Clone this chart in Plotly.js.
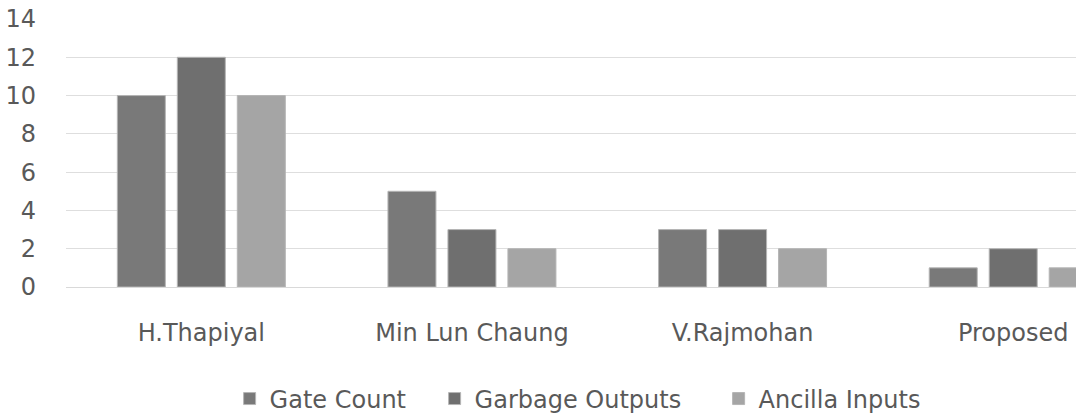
<!DOCTYPE html>
<html>
<head>
<meta charset="utf-8">
<script src="https://cdn.plot.ly/plotly-3.0.1.min.js"></script>
<style>html,body{margin:0;padding:0;background:#fff;}#chart{width:1076px;height:413px;}</style>
</head>
<body>
<div id="chart"></div>
<script>
var categories = ["H.Thapiyal", "Min Lun Chaung", "V.Rajmohan", "Proposed"];
var gateCount = [10, 5, 3, 1];
var garbageOutputs = [12, 3, 3, 2];
var ancillaInputs = [10, 2, 2, 1];
var yTicks = [0, 2, 4, 6, 8, 10, 12, 14];

var font = "DejaVu Sans";
var textColor = "#595959";
var fs = 24;

function barTrace(name, values, color, lw) {
  return {
    type: "bar",
    name: name,
    x: categories,
    y: values,
    marker: {color: color, line: {color: "#b5b5b5", width: 1}},
    legendwidth: lw,
    hoverinfo: "x+y+name"
  };
}

var data = [
  barTrace("Gate Count", gateCount, "#797979", 160),
  barTrace("Garbage Outputs", garbageOutputs, "#6f6f6f", 239),
  barTrace("Ancilla Inputs", ancillaInputs, "#a5a5a5", 180)
];

var layout = {
  width: 1076,
  height: 413,
  margin: {l: 66, r: 0, t: 19, b: 126},
  paper_bgcolor: "#ffffff",
  plot_bgcolor: "#ffffff",
  barmode: "group",
  bargap: 0.335,
  bargroupgap: 0.2,
  font: {family: font, size: fs, color: textColor},
  xaxis: {
    type: "category",
    range: [-0.5, 3.232],
    showgrid: false,
    showline: false,
    zeroline: false,
    ticks: "",
    ticklabelstandoff: 29,
    tickfont: {family: font, size: fs, color: textColor},
    fixedrange: true
  },
  yaxis: {
    range: [0, 14],
    tickvals: yTicks,
    ticktext: yTicks.map(String),
    showgrid: true,
    gridcolor: "#dedede",
    gridwidth: 1,
    zeroline: true,
    zerolinecolor: "#d9d9d9",
    zerolinewidth: 1,
    showline: false,
    ticks: "",
    ticklabelstandoff: 29,
    tickfont: {family: font, size: fs, color: textColor},
    fixedrange: true
  },
  showlegend: true,
  legend: {
    orientation: "h",
    xref: "container",
    yref: "container",
    x: 0.2134,
    xanchor: "left",
    y: 0.034,
    yanchor: "middle",
    font: {family: font, size: fs, color: textColor},
    bgcolor: "rgba(0,0,0,0)",
    traceorder: "normal"
  }
};

Plotly.newPlot("chart", data, layout, {displayModeBar: false, staticPlot: true});
</script>
</body>
</html>
